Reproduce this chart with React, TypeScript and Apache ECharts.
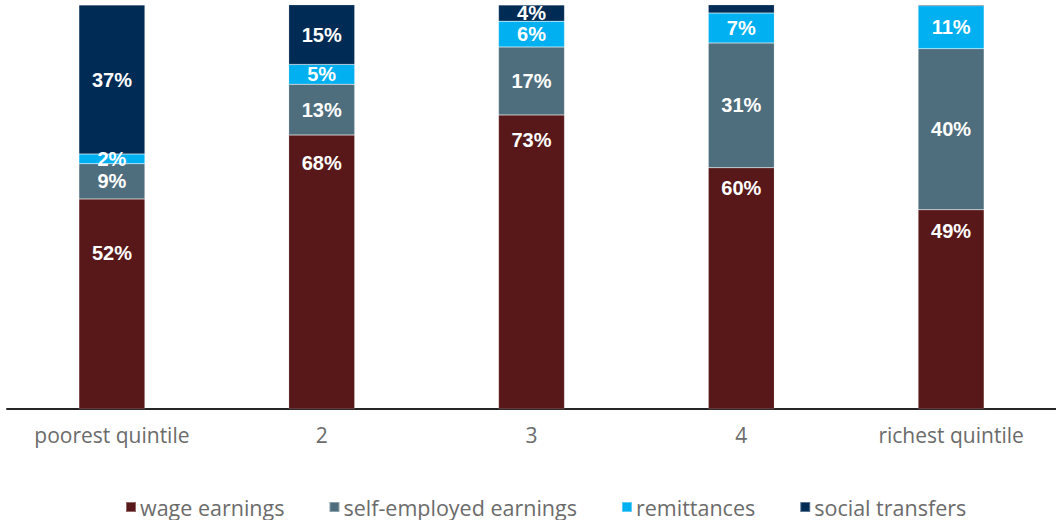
import React, { useEffect, useRef } from "react";
import * as echarts from "echarts";

const categories = ["poorest quintile", "2", "3", "4", "richest quintile"];
const wageEarnings = [52.0, 67.8, 72.8, 59.7, 49.3];
const selfEmployedEarnings = [8.7, 12.6, 16.8, 30.9, 39.9];
const remittances = [2.4, 4.9, 6.4, 7.4, 10.6];
const socialTransfers = [36.9, 14.9, 4.0, 2.2, 0.5];

// distance of wage-earnings labels from the top of their segment (styling)
const wageLabelDistance = [44, 18, 15, 10, 11];

const seriesDefs = [
  { name: "wage earnings", data: wageEarnings, color: "#581718" },
  { name: "self-employed earnings", data: selfEmployedEarnings, color: "#4f6e7d" },
  { name: "remittances", data: remittances, color: "#00b0f0" },
  { name: "social transfers", data: socialTransfers, color: "#002b54" },
];

const textFont = "Open Sans";

export default function App() {
  const ref = useRef<HTMLDivElement>(null);
  useEffect(() => {
    if (!ref.current) return;
    const chart = echarts.init(ref.current, undefined, { renderer: "svg" });
    const labelBase = {
      show: true,
      position: "inside",
      fontFamily: "Liberation Sans",
      fontWeight: "bold",
      fontSize: 20,
      color: "#ffffff",
      formatter: (p: any) => (p.seriesName === "social transfers" && p.value < 3 ? "" : Math.round(p.value) + "%"),
    };
    chart.setOption({
      animation: false,
      grid: { left: 7, top: 5, width: 1055, bottom: 111, containLabel: false },
      legend: {
        top: 491,
        left: 120,
        itemWidth: 10,
        itemHeight: 10,
        itemGap: 44,
        icon: "rect",
        textStyle: { fontFamily: textFont, fontSize: 21.5, lineHeight: 22, color: "#6b6b6b", padding: [0, 0, 0, -1] },
        data: seriesDefs.map((s) => s.name),
      },
      xAxis: {
        type: "category",
        data: categories,
        axisLine: { lineStyle: { color: "#262626", width: 2 } },
        axisTick: { show: false },
        axisLabel: { fontFamily: textFont, fontSize: 21, color: "#6b6b6b", margin: 15 },
      },
      yAxis: { type: "value", min: 0, max: 100, show: false, splitLine: { show: false } },
      series: seriesDefs.map((s, si) => ({
        name: s.name,
        type: "bar",
        stack: "total",
        barWidth: 66,
        itemStyle: { color: s.color, borderColor: "rgba(255,255,255,0.35)", borderWidth: 0.5 },
        data:
          si === 0
            ? s.data.map((v, i) => ({
                value: v,
                label: { position: "insideTop", distance: wageLabelDistance[i] },
              }))
            : s.data,
        label: labelBase,
        labelLayout: { hideOverlap: false },
      })),
    });
    return () => chart.dispose();
  }, []);
  return (
    <div
      ref={ref}
      style={{ position: "absolute", left: 0, top: 0, width: 1056, height: 520 }}
    />
  );
}
